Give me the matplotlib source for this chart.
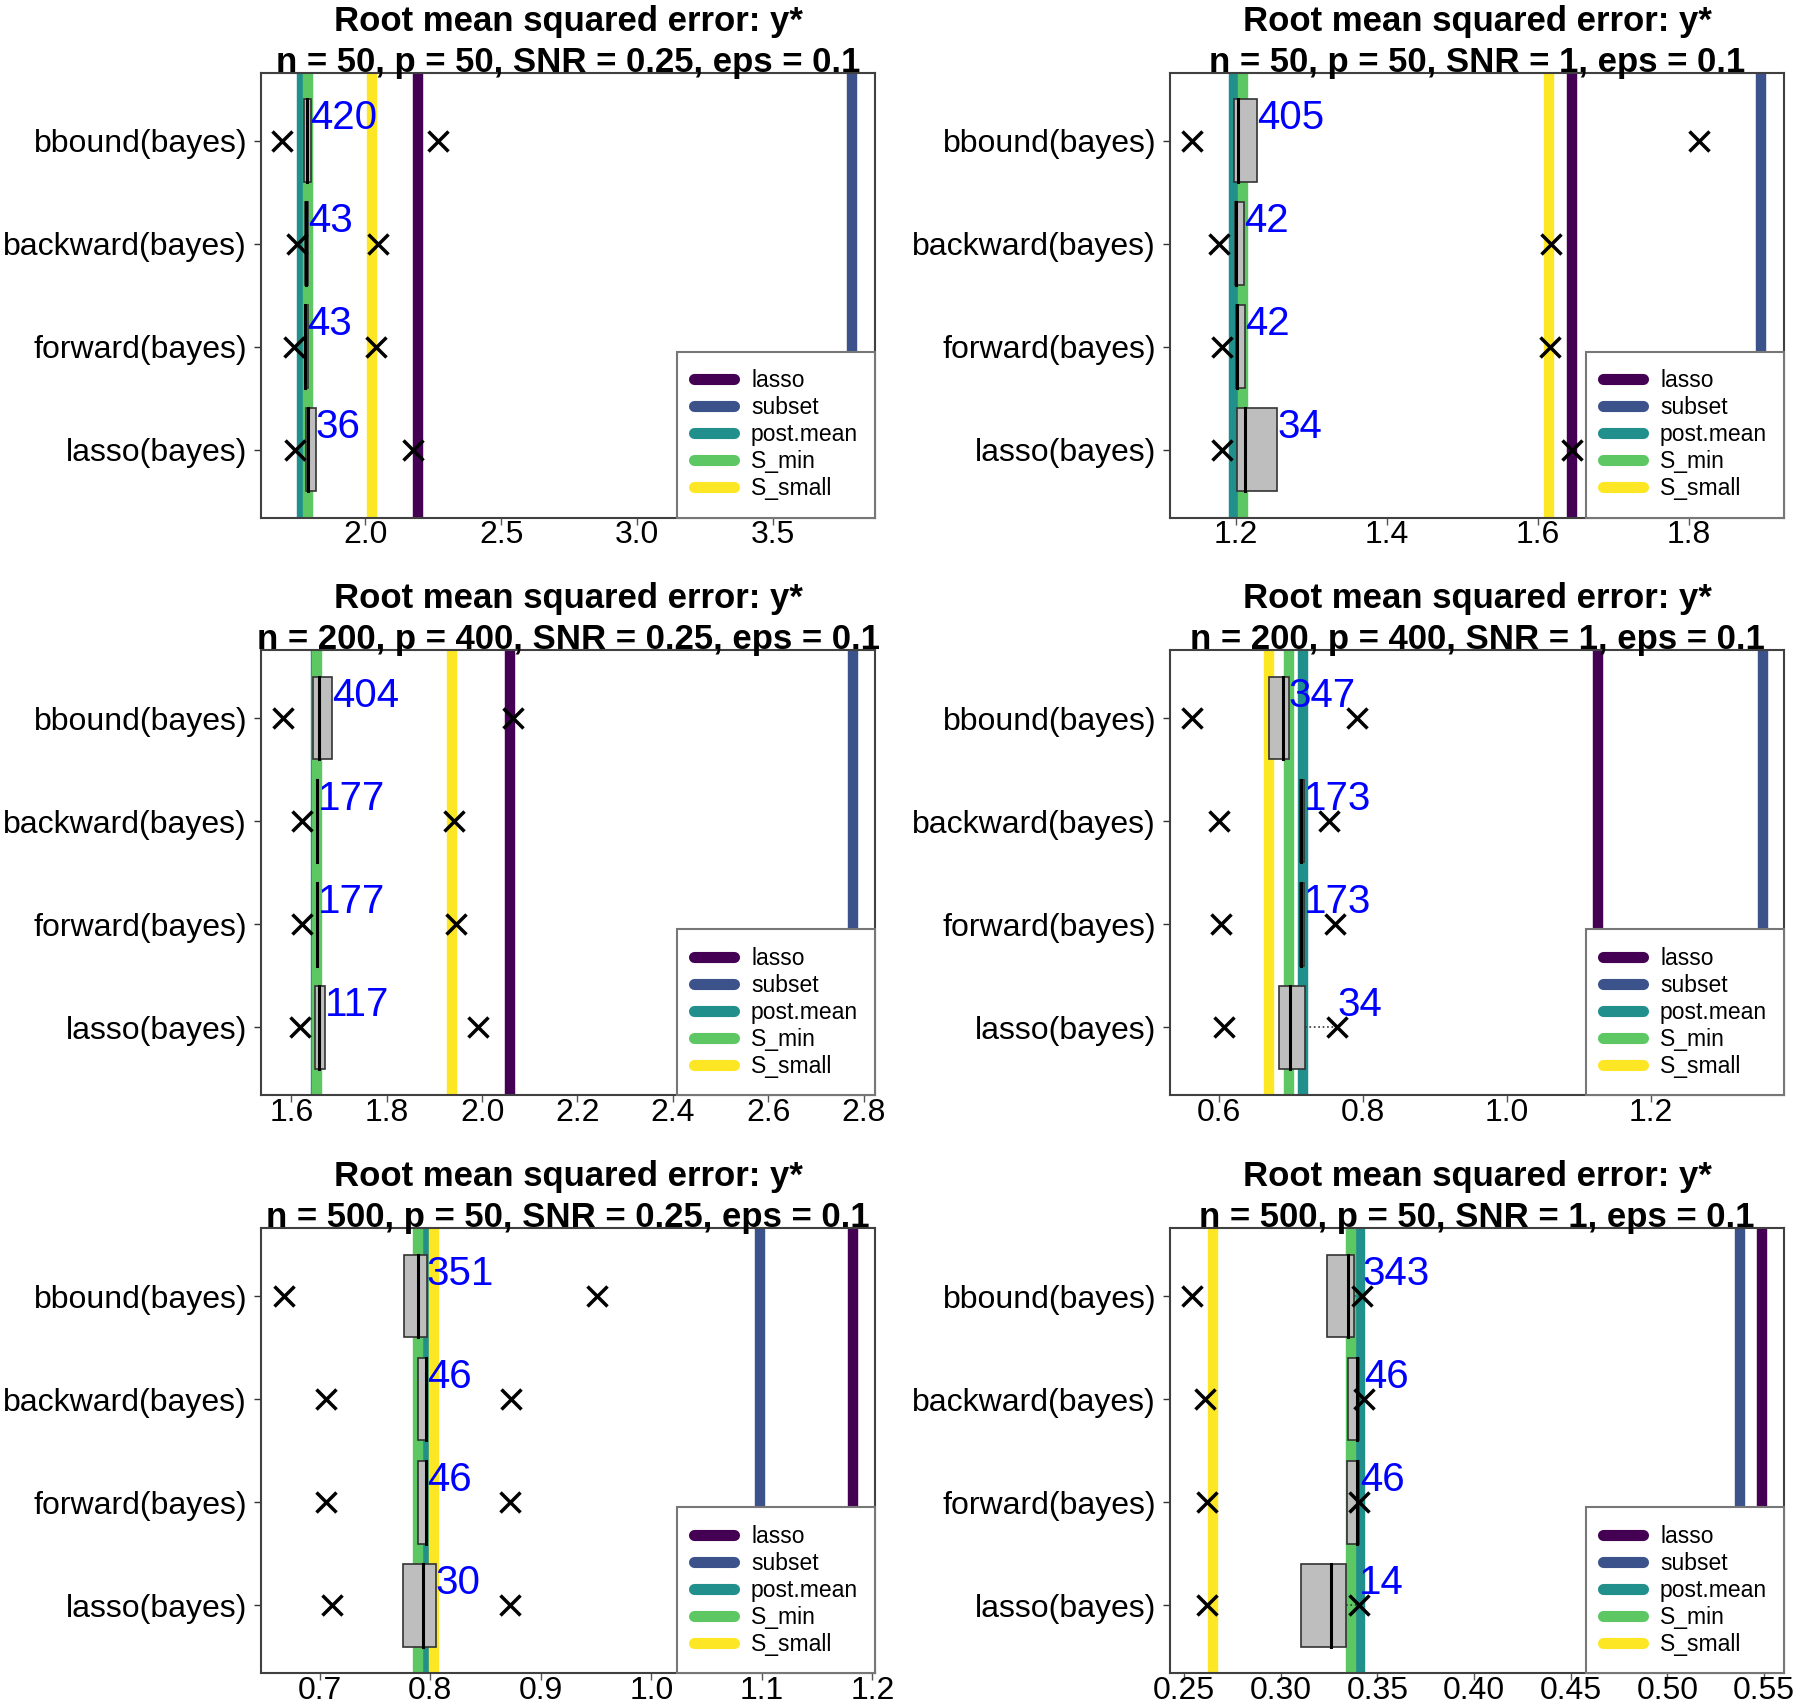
import matplotlib
matplotlib.use('Agg')
import matplotlib.pyplot as plt
from matplotlib.lines import Line2D

plt.rcParams['font.family'] = ['Liberation Sans', 'DejaVu Sans']

# rows from bottom to top
methods = ['lasso(bayes)', 'forward(bayes)', 'backward(bayes)', 'bbound(bayes)']
line_names = ['lasso', 'subset', 'post.mean', 'S_min', 'S_small']
line_colors = ['#440154', '#3B528B', '#21908C', '#5DC863', '#FDE725']

titles = ['n = 50, p = 50, SNR = 0.25, eps = 0.1',
          'n = 50, p = 50, SNR = 1, eps = 0.1',
          'n = 200, p = 400, SNR = 0.25, eps = 0.1',
          'n = 200, p = 400, SNR = 1, eps = 0.1',
          'n = 500, p = 50, SNR = 0.25, eps = 0.1',
          'n = 500, p = 50, SNR = 1, eps = 0.1']

# vertical reference lines: lasso, subset, post.mean, S_min, S_small
ref_lines = [[2.194, 3.791, 1.768, 1.790, 2.024],
             [1.645, 1.895, 1.1985, 1.2095, 1.6155],
             [2.058, 2.777, 1.652, 1.654, 1.937],
             [1.127, 1.3565, 0.7172, 0.6967, 0.6695],
             [1.1827, 1.0984, 0.797, 0.7894, 0.8032],
             [0.549, 0.5374, 0.3408, 0.3364, 0.2649]]

box_q1 = [[1.781, 1.776, 1.777, 1.774],
          [1.2020, 1.2011, 1.1988, 1.1983],
          [1.650, 1.653, 1.653, 1.6457],
          [0.6834, 0.7130, 0.7130, 0.6687],
          [0.7752, 0.7894, 0.7894, 0.7767],
          [0.3104, 0.3343, 0.3346, 0.3237]]
box_med = [[1.787, 1.779, 1.780, 1.786],
           [1.2124, 1.2015, 1.2000, 1.2035],
           [1.657, 1.654, 1.654, 1.657],
           [0.6991, 0.7145, 0.7145, 0.6892],
           [0.7937, 0.7960, 0.7960, 0.7893],
           [0.3260, 0.3392, 0.3392, 0.3346]]
box_q3 = [[1.817, 1.787, 1.790, 1.798],
          [1.2551, 1.2129, 1.2111, 1.2280],
          [1.670, 1.655, 1.655, 1.6862],
          [0.7196, 0.7180, 0.7180, 0.6966],
          [0.8051, 0.7973, 0.7973, 0.7969],
          [0.3336, 0.3403, 0.3402, 0.3380]]
whisk_hi = [[1.817, 1.787, 1.790, 1.798],
            [1.2551, 1.2129, 1.2111, 1.2280],
            [1.670, 1.655, 1.655, 1.6862],
            [0.7643, 0.7180, 0.7180, 0.6966],
            [0.8051, 0.7973, 0.7973, 0.7969],
            [0.3403, 0.3408, 0.3430, 0.3420]]
x_lo = [[1.742, 1.738, 1.747, 1.692],
        [1.1817, 1.1817, 1.1776, 1.1426],
        [1.618, 1.622, 1.622, 1.583],
        [0.6073, 0.6025, 0.6000, 0.5627],
        [0.7110, 0.7059, 0.7059, 0.6680],
        [0.2617, 0.2617, 0.2606, 0.2541]]
x_hi = [[2.173, 2.038, 2.046, 2.266],
        [1.645, 1.616, 1.617, 1.8137],
        [1.991, 1.945, 1.941, 2.064],
        [0.7643, 0.7608, 0.7529, 0.7916],
        [0.8718, 0.8725, 0.8733, 0.9509],
        [0.3403, 0.3403, 0.3430, 0.3420]]
counts = [[36, 43, 43, 420],
          [34, 42, 42, 405],
          [117, 177, 177, 404],
          [34, 173, 173, 347],
          [30, 46, 46, 351],
          [14, 46, 46, 343]]

xlims = [(1.6155, 3.876), (1.1132, 1.9264), (1.5364, 2.8245),
         (0.5317, 1.386), (0.647, 1.2027), (0.2426, 0.5606)]
xticks = [[2.0, 2.5, 3.0, 3.5],
          [1.2, 1.4, 1.6, 1.8],
          [1.6, 1.8, 2.0, 2.2, 2.4, 2.6, 2.8],
          [0.6, 0.8, 1.0, 1.2],
          [0.7, 0.8, 0.9, 1.0, 1.1, 1.2],
          [0.25, 0.30, 0.35, 0.40, 0.45, 0.50, 0.55]]
tick_decimals = [1, 1, 1, 1, 1, 2]

fig = plt.figure(figsize=(18, 17.04), dpi=100)
lefts = [0.145, 0.650]
bottoms = [0.6962, 0.3572, 0.0180]
w, h = 0.3413, 0.2612

pos = [1, 2, 3, 4]
for k in range(6):
    ax = fig.add_axes([lefts[k % 2], bottoms[k // 2], w, h])

    for v, c in zip(ref_lines[k], line_colors):
        ax.axvline(v, color=c, lw=7.5, zorder=1)

    q1 = box_q1[k]
    q3 = box_q3[k]
    widths = [b - a for a, b in zip(q1, q3)]
    ax.barh(pos, widths, left=q1, height=0.8, color='#BEBEBE',
            edgecolor='#333333', lw=1.2, zorder=3)
    for i in range(4):
        y = pos[i]
        ax.plot([box_med[k][i]] * 2, [y - 0.4, y + 0.4], color='black',
                lw=2.2, zorder=4)
        if whisk_hi[k][i] > q3[i] + 1e-4:
            ax.plot([q3[i], whisk_hi[k][i]], [y, y], color='#333333',
                    lw=1.2, ls=':', zorder=2)
        ax.text(whisk_hi[k][i], y + 0.4, str(counts[k][i]), color='blue',
                fontsize=29, ha='left', va='top', zorder=6)
    ax.plot(x_lo[k], pos, 'x', ms=15, mew=2.5, color='black', zorder=5)
    ax.plot(x_hi[k], pos, 'x', ms=15, mew=2.5, color='black', zorder=5)

    ax.set_xlim(*xlims[k])
    ax.set_ylim(0.34, 4.66)
    ax.set_yticks(pos)
    ax.set_yticklabels(methods)
    ax.set_xticks(xticks[k])
    ax.set_xticklabels(['%.*f' % (tick_decimals[k], t) for t in xticks[k]])
    ax.tick_params(axis='x', length=5, width=1, color='#555555', pad=-3,
                   labelsize=23)
    ax.tick_params(axis='y', length=5, width=1, color='#333333', pad=5,
                   labelsize=23)
    for s in ax.spines.values():
        s.set_color('#404040')
        s.set_linewidth(1.5)

    ax.text(0.5, 0.986, 'Root mean squared error: y*\n' + titles[k],
            transform=ax.transAxes, ha='center', va='bottom', fontsize=25,
            fontweight='bold', linespacing=1.32)

    handles = [Line2D([0], [0], color=c, lw=8, solid_capstyle='round')
               for c in line_colors]
    leg = ax.legend(handles, line_names, loc='lower right', fontsize=16.5,
                    frameon=True, fancybox=False, borderaxespad=0,
                    handlelength=1.75, handletextpad=0.75, labelspacing=0.18,
                    borderpad=0.75, framealpha=1)
    leg.get_frame().set_edgecolor('#777777')
    leg.get_frame().set_linewidth(1.5)
    leg.set_zorder(10)

fig.savefig('out.png', dpi=100, facecolor='white')
